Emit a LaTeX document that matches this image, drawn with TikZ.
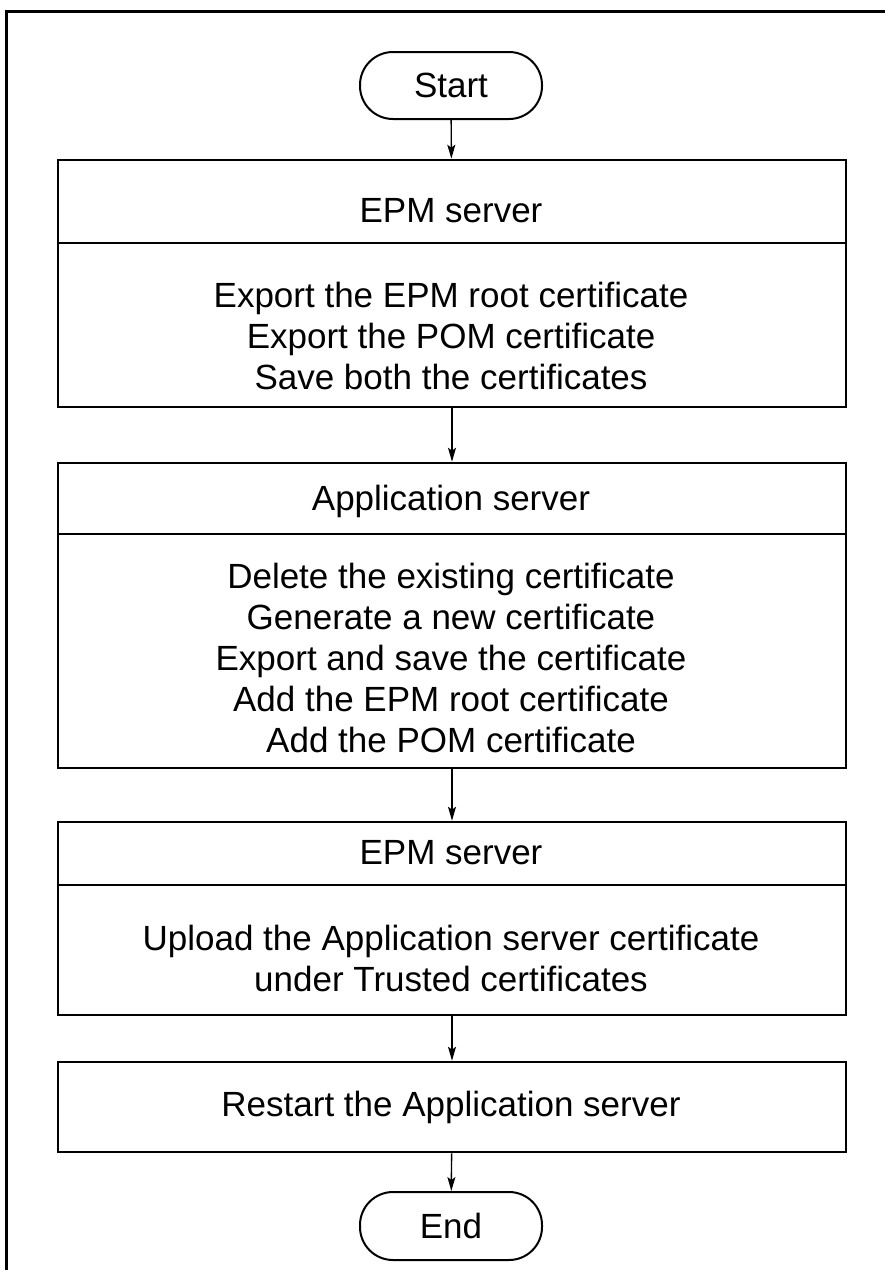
\documentclass[tikz,border=0pt]{standalone}
\usepackage{fontspec}
\setmainfont{Liberation Sans}
\usetikzlibrary{arrows.meta}
\begin{document}
\begin{tikzpicture}[x=1pt,y=-1pt,
  box/.style={draw,line width=2.6pt,minimum width=788pt,inner sep=0pt},
  term/.style={draw,line width=2pt,rectangle,rounded corners=33pt,minimum width=182pt,minimum height=67pt,inner sep=0pt,font=\fontsize{35}{41}\selectfont},
  txt/.style={font=\fontsize{35}{41}\selectfont,inner sep=0pt,anchor=base},
  flow/.style={line width=1.4pt,-{Stealth[length=14pt,width=8pt,inset=3pt]}},
  divider/.style={line width=2pt},
  frame/.style={line width=3pt}]
\useasboundingbox (0,0) rectangle (885,1270);
% frame (left and top only)
\coordinate (fbl) at (6,1272);
\coordinate (ftl) at (6,11);
\coordinate (ftr) at (887,11);
\draw[frame] (fbl) -- (ftl) -- (ftr);

% terminals
\node[term] (start) at (451,85.5) {Start};
\node[term,minimum height=68pt] (end) at (451,1226) {End};

% boxes
\node[box,minimum height=247pt] (b1) at (452,283.5) {};
\node[box,minimum height=305pt] (b2) at (452,615.5) {};
\node[box,minimum height=193pt] (b3) at (452,918.5) {};
\node[box,minimum height=90pt] (b4) at (452,1107) {};

% dividers
\coordinate (d1) at (452,243);
\coordinate (d2) at (452,534);
\coordinate (d3) at (452,885);
\draw[divider] (b1.west |- d1) -- (b1.east |- d1);
\draw[divider] (b2.west |- d2) -- (b2.east |- d2);
\draw[divider] (b3.west |- d3) -- (b3.east |- d3);

% texts (anchored on their baselines)
\node[txt] (t1) at (451,222) {EPM server};
\node[txt] (s1a) at (451,307) {Export the EPM root certificate};
\node[txt] (s1b) at (451,348) {Export the POM certificate};
\node[txt] (s1c) at (451,389) {Save both the certificates};

\node[txt] (t2) at (451,510) {Application server};
\node[txt] (s2a) at (451,588) {Delete the existing certificate};
\node[txt] (s2b) at (451,629) {Generate a new certificate};
\node[txt] (s2c) at (451,670) {Export and save the certificate};
\node[txt] (s2d) at (451,711) {Add the EPM root certificate};
\node[txt] (s2e) at (451,752) {Add the POM certificate};

\node[txt] (t3) at (451,864) {EPM server};
\node[txt] (s3a) at (451,950) {Upload the Application server certificate};
\node[txt] (s3b) at (451,991) {under Trusted certificates};

\node[txt] (t4) at (451,1116) {Restart the Application server};

% connectors
\draw[flow] (start) -- (b1);
\draw[flow] (b1) -- (b2);
\draw[flow] (b2) -- (b3);
\draw[flow] (b3) -- (b4);
\draw[flow] (b4) -- (end);
\end{tikzpicture}
\end{document}
